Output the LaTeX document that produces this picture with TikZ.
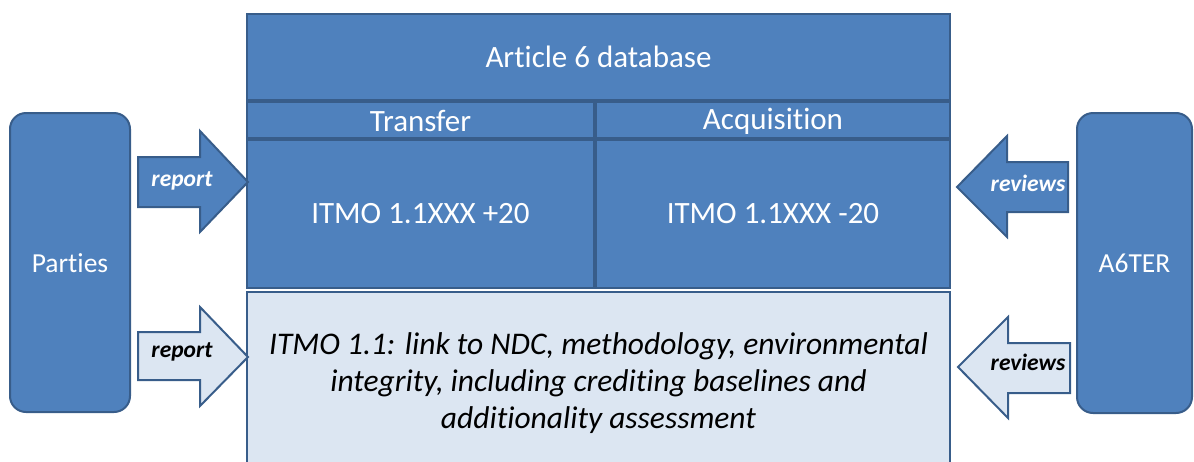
\documentclass[tikz,border=0pt]{standalone}
\usepackage{fontspec}
\setmainfont{Carlito}[Ligatures={NoCommon}]
\definecolor{boxfill}{HTML}{4F81BD}
\definecolor{boxline}{HTML}{385D8A}
\definecolor{lightfill}{HTML}{DCE6F2}
\begin{document}
\begin{tikzpicture}[x=1pt,y=-1pt,
  cell/.style={draw=boxline, line width=2pt, fill=boxfill},
  lightcell/.style={draw=boxline, line width=2pt, fill=lightfill},
  side/.style={draw=boxline, line width=2pt, fill=boxfill, rounded corners=16pt},
  arrowdark/.style={draw=boxline, line width=2pt, fill=boxfill, line join=miter},
  arrowlight/.style={draw=boxline, line width=2pt, fill=lightfill, line join=miter},
  big/.style={text=white, font=\fontsize{31}{37}\selectfont},
  sidetext/.style={text=white, font=\fontsize{27.5}{32}\selectfont},
  tag/.style={font=\fontsize{23.5}{27}\selectfont\bfseries\itshape}]
\useasboundingbox (0,0) rectangle (1194,461);
\begin{scope}
\clip (0,0) rectangle (1194,461);
% database table
\draw[cell] (247,14) rectangle (950,100);
\node[big] (db) at (598.5,57) {Article 6 database};
\draw[cell] (247,102) rectangle (594,138);
\node[big] (tr) at (420.5,121) {Transfer};
\draw[cell] (596,102) rectangle (950,138);
\node[big] (acq) at (773,121) {Acquisition};
\draw[cell] (247,140) rectangle (594,288);
\node[big] (trv) at (420.5,214) {ITMO 1.1XXX +20};
\draw[cell] (596,140) rectangle (950,288);
\node[big] (acqv) at (773,214) {ITMO 1.1XXX -20};
% information box
\draw[lightcell] (247,292) rectangle (950,480);
\node[align=center, font=\fontsize{31.5}{37}\selectfont\itshape] (info) at (598.5,383)
  {ITMO 1.1: link to NDC, methodology, environmental\\integrity, including crediting baselines and\\additionality assessment};
% side actors
\draw[side] (10,113) rectangle (130,412);
\node[sidetext] (parties) at (70,263) {Parties};
\draw[side] (1077,113) rectangle (1192,413);
\node[sidetext] (a6ter) at (1134.5,263) {A6TER};
% report arrows
\draw[arrowdark] (138,157) -- (200,157) -- (200,131) -- (248,182) -- (200,232) -- (200,207) -- (138,207) -- cycle;
\node[tag, text=white] (rep1) at (182,181) {report};
\draw[arrowlight] (138,332) -- (200,332) -- (200,307) -- (248,357) -- (200,406) -- (200,380) -- (138,380) -- cycle;
\node[tag, text=black] (rep2) at (182,352) {report};
% review arrows
\draw[arrowdark] (1068,162) -- (1007,162) -- (1007,136) -- (957,187) -- (1007,237) -- (1007,212) -- (1068,212) -- cycle;
\node[tag, text=white] (rev1) at (1028,183) {reviews};
\draw[arrowlight] (1070,343) -- (1008,343) -- (1008,317) -- (958,367) -- (1008,418) -- (1008,393) -- (1070,393) -- cycle;
\node[tag, text=black] (rev2) at (1028,362) {reviews};
\end{scope}
\end{tikzpicture}
\end{document}
